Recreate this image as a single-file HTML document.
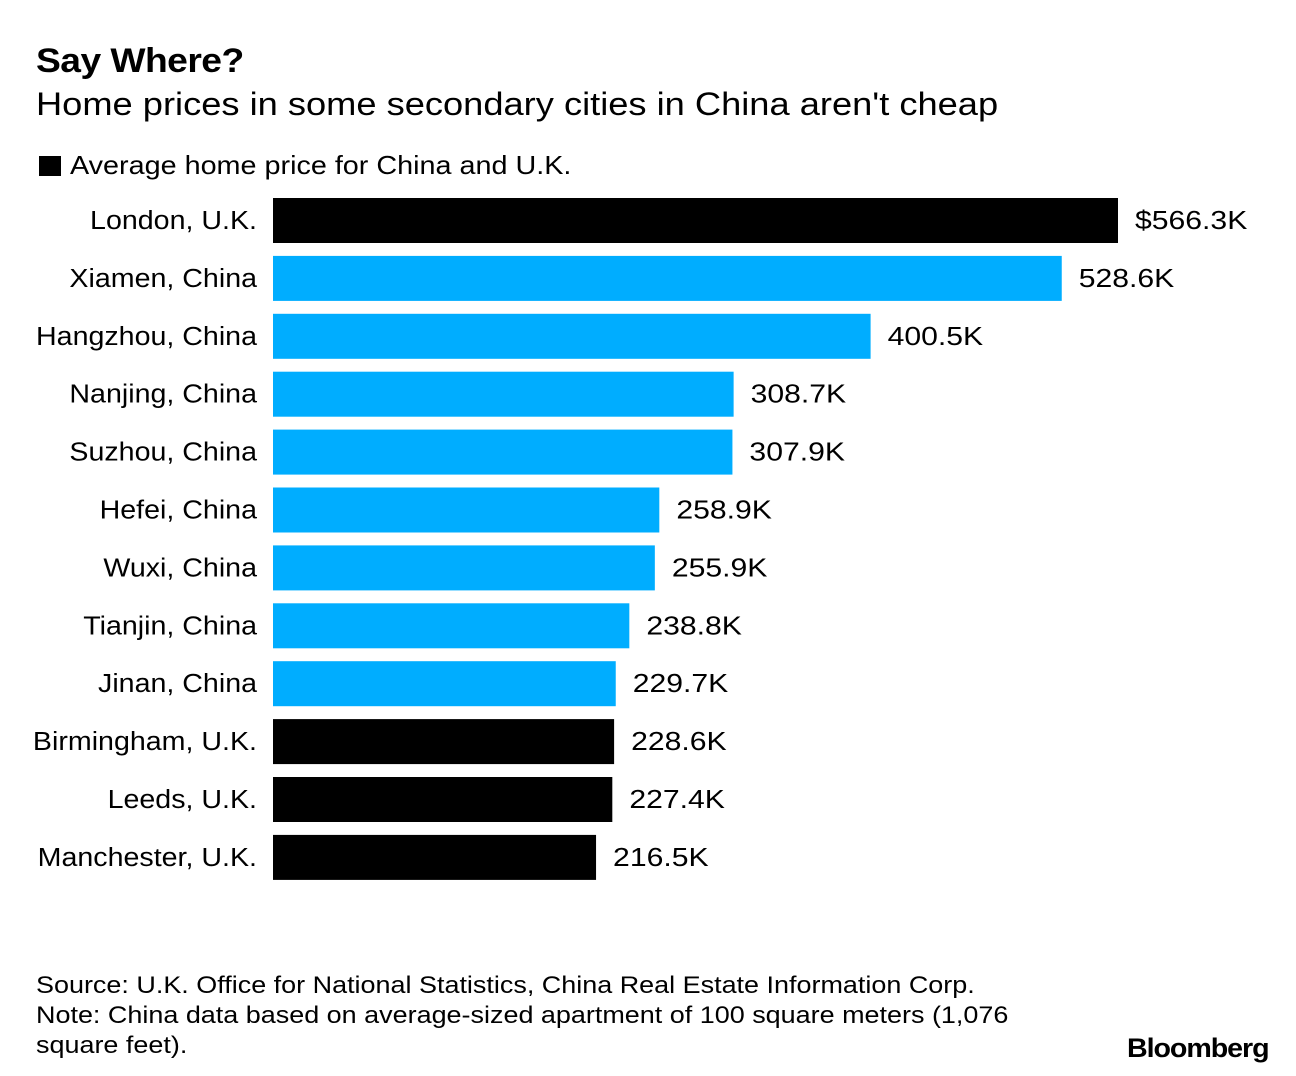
<!DOCTYPE html>
<html><head><meta charset="utf-8"><style>
body{margin:0;background:#fff;width:1296px;height:1076px;overflow:hidden;font-family:"Liberation Sans",sans-serif;color:#000}
.t{position:absolute;white-space:nowrap;transform-origin:0 0}
</style></head><body>
<div class="t" style="left:36px;top:42px;font-size:34px;font-weight:bold;letter-spacing:-0.5px;transform:scaleX(1.095)">Say Where?</div>
<div class="t" style="left:36px;top:86px;font-size:32px;transform:scaleX(1.133)">Home prices in some secondary cities in China aren't cheap</div>
<div class="t" style="left:39px;top:156px;width:22px;height:20px;background:#000"></div>
<div class="t" style="left:70px;top:150px;font-size:26px;transform:scaleX(1.106)">Average home price for China and U.K.</div>
<svg id="chart" width="1296" height="920" style="position:absolute;left:0;top:0"></svg>
<div class="t" style="left:36px;top:971px;font-size:24px;line-height:30px;transform:scaleX(1.123)">Source: U.K. Office for National Statistics, China Real Estate Information Corp.<br>Note: China data based on average-sized apartment of 100 square meters (1,076<br>square feet).</div>
<div class="t" style="left:1127px;top:1033px;font-size:27px;font-weight:bold;letter-spacing:-1px;transform:scaleX(1.06)">Bloomberg</div>
<script>
const cities=["London, U.K.","Xiamen, China","Hangzhou, China","Nanjing, China","Suzhou, China","Hefei, China","Wuxi, China","Tianjin, China","Jinan, China","Birmingham, U.K.","Leeds, U.K.","Manchester, U.K."];
const prices=[566.3,528.6,400.5,308.7,307.9,258.9,255.9,238.8,229.7,228.6,227.4,216.5];
const countries=["UK","CN","CN","CN","CN","CN","CN","CN","CN","UK","UK","UK"];
const svg=document.getElementById('chart');
const NS='http://www.w3.org/2000/svg';
const x0=273,scale=845/566.3;
const xs=v=>v*scale;
const ys=i=>198+i*57.9;
cities.forEach((c,i)=>{
  const r=document.createElementNS(NS,'rect');
  r.setAttribute('x',x0);r.setAttribute('y',ys(i));
  r.setAttribute('width',xs(prices[i]));r.setAttribute('height',45);
  r.setAttribute('fill',countries[i]==='UK'?'#000':'#00adff');
  
  
  svg.appendChild(r);
  const l=document.createElementNS(NS,'text');
  l.setAttribute('transform','translate(257,'+(ys(i)+31)+') scale(1.1,1)');
  l.setAttribute('text-anchor','end');l.setAttribute('font-size','26');
  l.setAttribute('font-family','Liberation Sans, sans-serif');
  l.textContent=c;
  
  
  svg.appendChild(l);
  const v=document.createElementNS(NS,'text');
  v.setAttribute('transform','translate('+(x0+xs(prices[i])+17)+','+(ys(i)+31)+') scale(1.16,1)');
  v.setAttribute('font-size','26');
  v.setAttribute('font-family','Liberation Sans, sans-serif');
  v.textContent=(i===0?'$':'')+prices[i].toFixed(1)+'K';
  
  
  svg.appendChild(v);
});
</script>
</body></html>
